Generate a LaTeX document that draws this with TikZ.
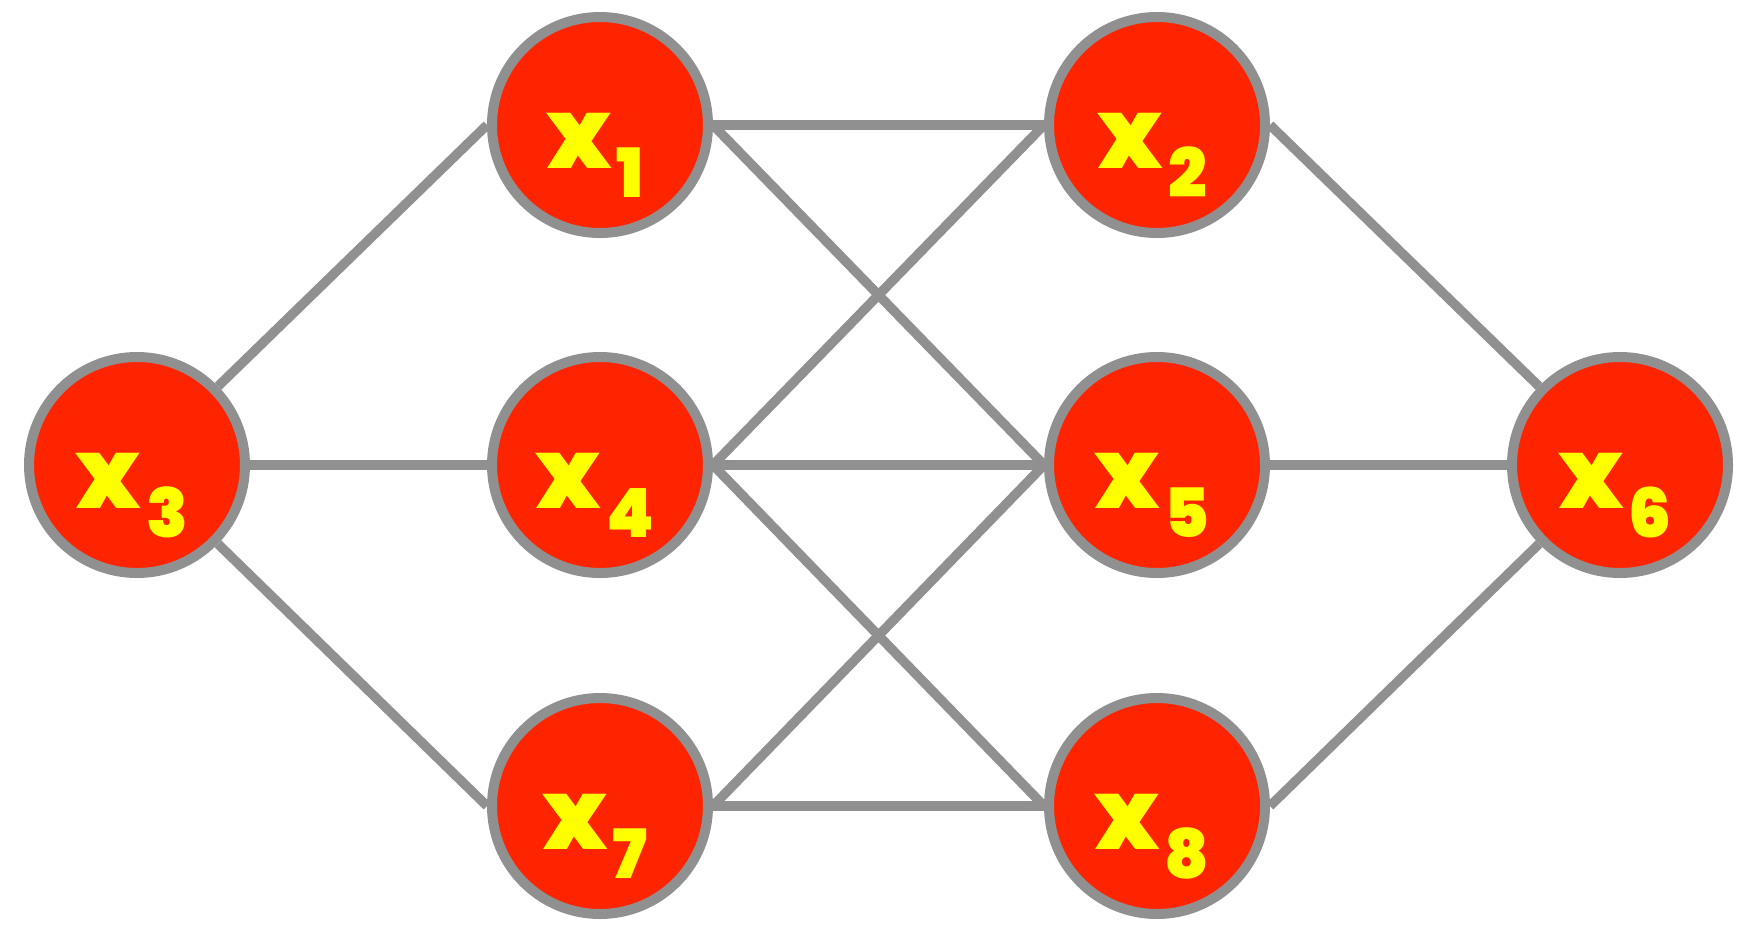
\documentclass[tikz,border=0pt]{standalone}
\usepackage{fontspec}
\newfontfamily\lblfont{Poppins}[UprightFont={* Black},Numbers=Lining]
\usetikzlibrary{backgrounds}
\definecolor{nodered}{HTML}{FF2400}
\definecolor{edgegray}{HTML}{909090}
\definecolor{lblyellow}{HTML}{FFFF00}
\newcommand{\xsub}[1]{{\fontsize{98}{98}\selectfont x}\kern5pt\raisebox{-29pt}{\fontsize{68}{68}\selectfont #1}}
\begin{document}
\begin{tikzpicture}[x=1pt,y=-1pt,
  vertex/.style={circle,draw=edgegray,fill=nodered,line width=10pt,minimum size=216pt,inner sep=0pt},
  vlabel/.style={anchor=base,inner sep=0pt,text=lblyellow,font=\lblfont,yshift=-43pt,xshift=-5pt},
  edge/.style={draw=edgegray,line width=9.5pt}]
\useasboundingbox (0,0) rectangle (1755,927);
% vertices
\node[vertex] (x3) at (137,465) {};
\node[vertex] (x1) at (600,125) {};
\node[vertex] (x4) at (600,465) {};
\node[vertex] (x7) at (600,806) {};
\node[vertex] (x2) at (1157,125) {};
\node[vertex] (x5) at (1157,465) {};
\node[vertex] (x8) at (1157,806) {};
\node[vertex] (x6) at (1620,465) {};
% labels
\node[vlabel] (t3) at (x3) {\xsub{3}};
\node[vlabel] (t1) at (x1) {\xsub{1}};
\node[vlabel] (t4) at (x4) {\xsub{4}};
\node[vlabel] (t7) at (x7) {\xsub{7}};
\node[vlabel] (t2) at (x2) {\xsub{2}};
\node[vlabel] (t5) at (x5) {\xsub{5}};
\node[vlabel] (t8) at (x8) {\xsub{8}};
\node[vlabel] (t6) at (x6) {\xsub{6}};
% connections
\begin{scope}[on background layer]
\draw[edge] (x3) -- (x1.west);
\draw[edge] (x3) -- (x4.west);
\draw[edge] (x3) -- (x7.west);
\draw[edge] (x1.east) -- (x2.west);
\draw[edge] (x1.east) -- (x5.west);
\draw[edge] (x4.east) -- (x2.west);
\draw[edge] (x4.east) -- (x5.west);
\draw[edge] (x4.east) -- (x8.west);
\draw[edge] (x7.east) -- (x5.west);
\draw[edge] (x7.east) -- (x8.west);
\draw[edge] (x2.east) -- (x6);
\draw[edge] (x5.east) -- (x6.west);
\draw[edge] (x8.east) -- (x6);
\end{scope}
\end{tikzpicture}
\end{document}
